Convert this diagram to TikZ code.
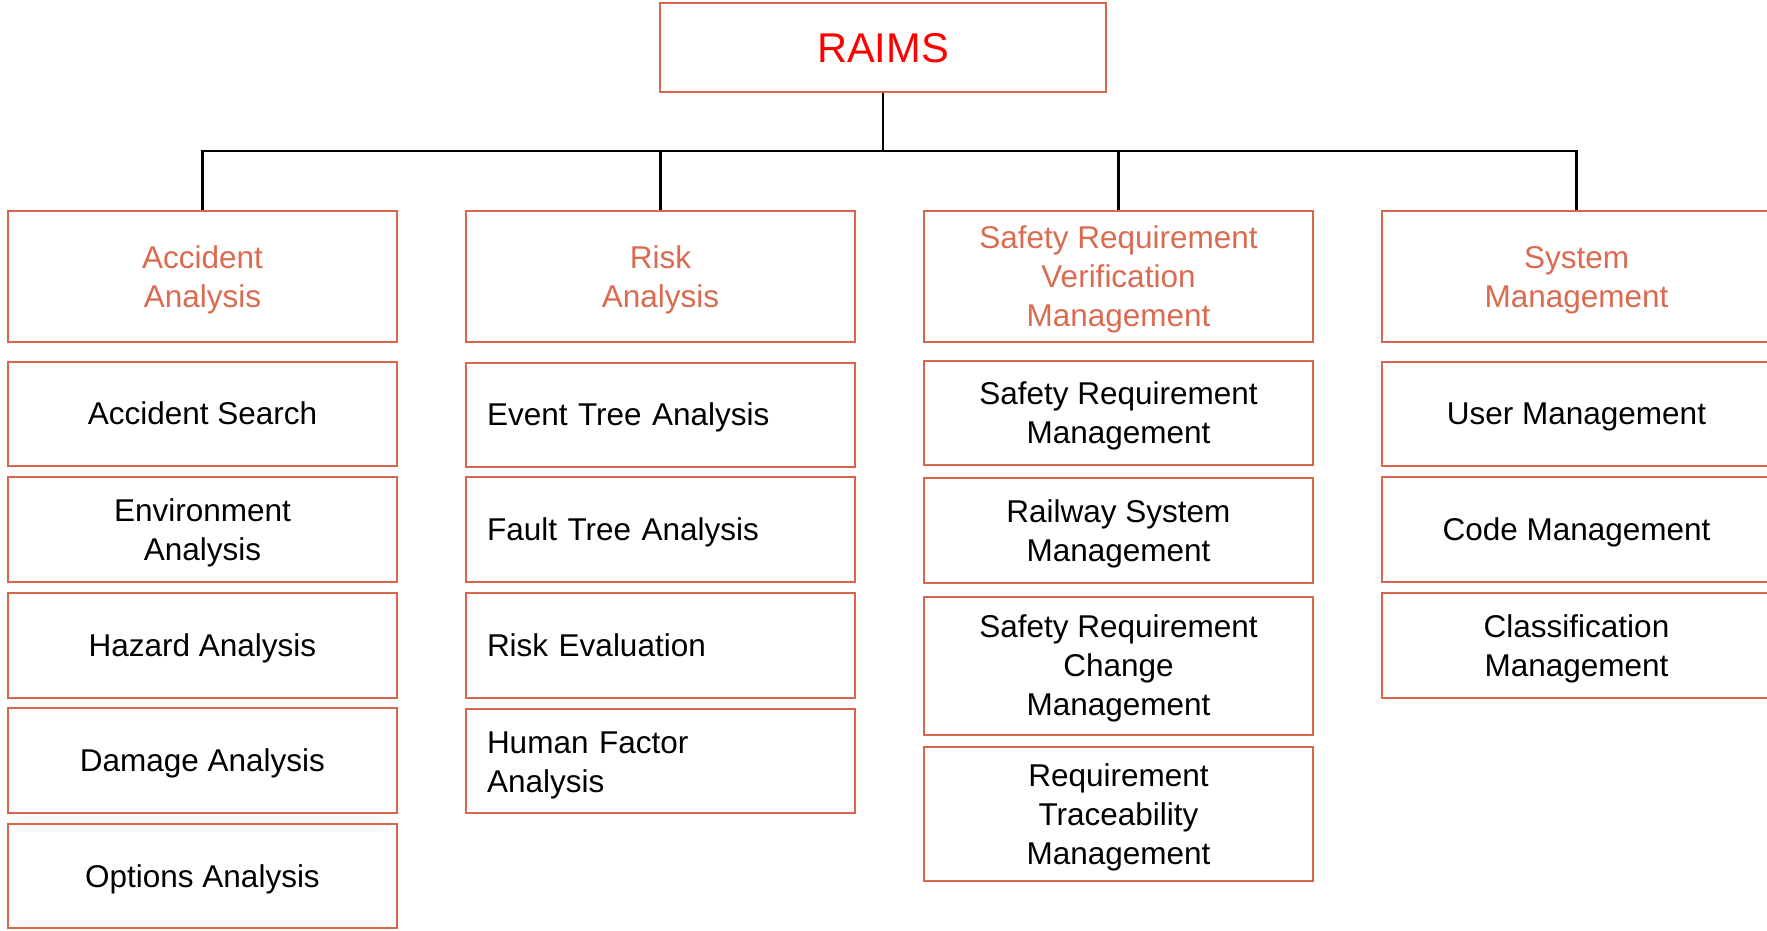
\documentclass[tikz,border=0pt]{standalone}
\usepackage{fontspec}
\setmainfont{Liberation Sans}
\definecolor{boxline}{RGB}{217,101,75}
\definecolor{headtext}{RGB}{218,106,80}
\definecolor{rootred}{RGB}{255,0,0}
\begin{document}
\begin{tikzpicture}[x=1pt, y=-1pt,
  box/.style={draw=boxline, line width=2pt, minimum width=389pt, minimum height=104pt,
    inner sep=0pt, text depth=-2pt, align=center, font=\fontsize{31.5pt}{39pt}\selectfont},
  head/.style={box, minimum height=131pt, text=headtext},
  lbox/.style={box, align=left, text width=347pt, inner xsep=21pt}]
\useasboundingbox (0,0) rectangle (1767,930);
\node[box, minimum width=446pt, minimum height=89pt, text=rootred, text depth=-4pt,
  font=\fontsize{41.6pt}{50pt}\selectfont] (raims) at (883,47.5) {RAIMS};
% column headers
\node[head] (hacc) at (202.5,276.5) {Accident\\Analysis};
\node[head] (hrisk) at (660.5,276.5) {Risk\\Analysis};
\node[head] (hsafe) at (1118.5,276.5) {Safety Requirement\\Verification\\Management};
\node[head] (hsys) at (1576.5,276.5) {System\\Management};
% accident analysis
\node[box] (acc1) at (202.5,413.5) {Accident Search};
\node[box, minimum height=105pt] (acc2) at (202.5,529.5) {Environment\\Analysis};
\node[box, minimum height=105pt] (acc3) at (202.5,645.5) {Hazard Analysis};
\node[box, minimum height=105pt] (acc4) at (202.5,760.5) {Damage Analysis};
\node[box] (acc5) at (202.5,876) {Options Analysis};
% risk analysis
\node[lbox] (risk1) at (660.5,414.5) {Event Tree Analysis};
\node[lbox, minimum height=105pt] (risk2) at (660.5,529.5) {Fault Tree Analysis};
\node[lbox, minimum height=105pt] (risk3) at (660.5,645.5) {Risk Evaluation};
\node[lbox, text depth=37pt] (risk4) at (660.5,761) {Human Factor\\Analysis};
% safety requirement verification management
\node[box] (safe1) at (1118.5,413) {Safety Requirement\\Management};
\node[box, minimum height=105pt] (safe2) at (1118.5,530.5) {Railway System\\Management};
\node[box, minimum height=138pt] (safe3) at (1118.5,665.5) {Safety Requirement\\Change\\Management};
\node[box, minimum height=134pt] (safe4) at (1118.5,814) {Requirement\\Traceability\\Management};
% system management
\node[box] (sys1) at (1576.5,413.5) {User Management};
\node[box, minimum height=105pt] (sys2) at (1576.5,529.5) {Code Management};
\node[box, minimum height=105pt] (sys3) at (1576.5,645.5) {Classification\\Management};
% connectors
\coordinate (bus) at (883,151);
\draw[line width=2.5pt] (raims.south) -- (bus);
\foreach \h in {hacc,hrisk,hsafe,hsys}
  \draw[line width=2.5pt] (bus) -| (\h.north);
\end{tikzpicture}
\end{document}
